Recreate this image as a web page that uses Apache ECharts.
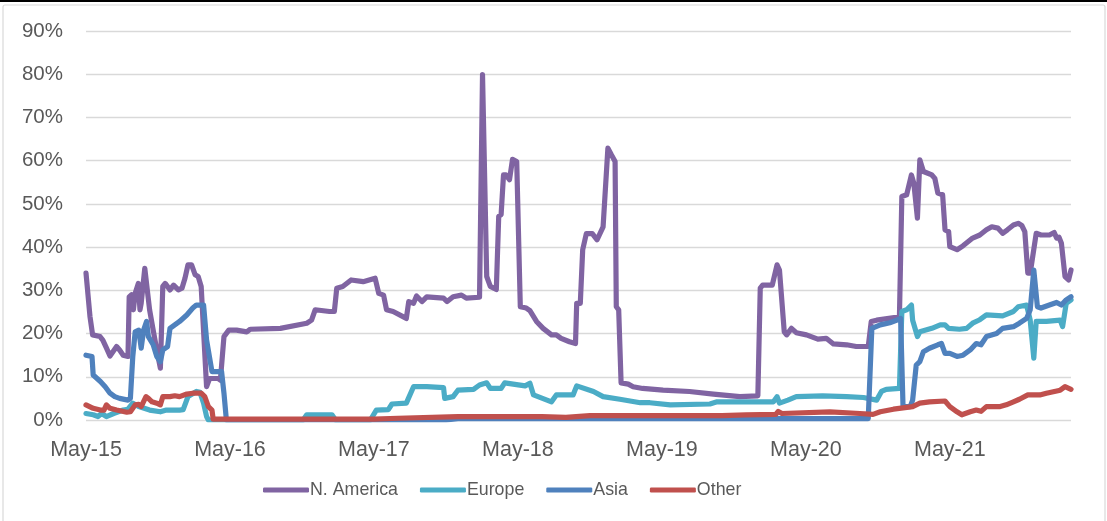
<!DOCTYPE html>
<html>
<head>
<meta charset="utf-8">
<script src="https://cdn.jsdelivr.net/npm/echarts@6/dist/echarts.min.js"></script>
<style>
html,body{margin:0;padding:0;background:#fff;}
#chart{width:1107px;height:521px;}
</style>
</head>
<body>
<div id="chart"></div>
<script>
// x = months since May 2015, y = share in %
const seriesNames = ['N. America', 'Europe', 'Asia', 'Other'];
const seriesColors = ['#8064A2', '#4BACC6', '#4F81BD', '#C0504D'];
const yTicks = [0, 10, 20, 30, 40, 50, 60, 70, 80, 90];
const xTickLabels = ['May-15', 'May-16', 'May-17', 'May-18', 'May-19', 'May-20', 'May-21'];

const nAmerica = [
[0,34],[0.33,24],[0.55,19.7],[1.17,19.3],[1.4,18.5],[1.7,16.7],[2.0,14.8],[2.55,17],[2.8,16.2],[3.1,15],[3.5,14.7],[3.6,28.5],[3.8,29],[3.95,25.5],[4.1,29.3],[4.36,31.6],[4.5,25.5],[4.6,27],[4.9,35.1],[5.05,34.7],[5.3,25.5],[5.6,20.8],[5.9,16.2],[6.2,12],[6.4,30.9],[6.6,31.6],[7,30.1],[7.3,31.2],[7.7,30.1],[8,30.5],[8.25,32.8],[8.5,35.9],[8.8,35.9],[9.1,33.6],[9.35,33.2],[9.6,30.9],[10.05,7.7],[10.3,9.6],[11.0,9.6],[11.2,9.2],[11.5,19.3],[11.9,20.8],[12.55,20.8],[13.4,20.4],[13.7,21],[16.2,21.2],[18.4,22.4],[18.8,23.1],[19.1,25.5],[20.3,25.1],[20.7,25.1],[20.9,30.5],[21.4,30.9],[22.1,32.4],[23.1,32],[24.1,32.8],[24.4,29.3],[24.8,28.9],[25.05,25.5],[25.6,25.1],[26.7,23.5],[26.9,27.4],[27.3,27],[27.55,28.7],[28,27.4],[28.4,28.5],[29.8,28.2],[30.1,27.4],[30.6,28.5],[31.3,28.9],[31.7,28.2],[32.8,28.4],[33.05,79.9],[33.4,33.2],[33.7,30.9],[34.2,30.2],[34.4,47.1],[34.6,47.5],[34.8,56.7],[35.0,56.7],[35.3,55.6],[35.55,60.3],[35.9,59.8],[36.2,26.2],[36.7,25.9],[37,25.3],[37.55,22.8],[38.1,21.2],[38.8,19.7],[39.2,19.7],[39.6,18.9],[40.3,18.1],[40.8,17.7],[40.9,27],[41.2,27],[41.4,39.4],[41.7,43.1],[42.2,43.1],[42.6,41.7],[43.1,44.7],[43.5,62.9],[43.8,61.3],[44.1,59.8],[44.2,26.2],[44.4,25.5],[44.6,8.6],[45.2,8.3],[45.6,7.7],[46.4,7.3],[48.1,6.9],[50.3,6.6],[52.3,6],[54.5,5.4],[56,5.6],[56.2,30.5],[56.4,31.2],[57.2,31.2],[57.6,35.9],[57.8,34.7],[58.2,20.4],[58.4,19.7],[58.8,21.2],[59.2,20.2],[60.05,19.7],[61,18.7],[61.7,18.9],[62.3,17.6],[63.4,17.4],[64.2,17],[65.2,17],[65.45,22.8],[65.9,23.1],[67.8,23.9],[68.0,51.7],[68.4,52.1],[68.8,56.7],[69,54.8],[69.3,46.7],[69.5,60.2],[69.8,57.5],[70.5,56.7],[70.75,55.9],[71,52.5],[71.4,52.1],[71.6,44],[71.9,43.6],[72,40.1],[72.6,39.4],[73.1,40.3],[73.9,42.1],[74.5,42.8],[75.05,44],[75.5,44.7],[76,44.4],[76.4,43.2],[76.8,44],[77.3,45.1],[77.7,45.5],[78,45],[78.25,43.6],[78.5,34],[78.7,34],[79.2,43.2],[79.6,42.8],[80.3,42.8],[80.7,43.4],[80.9,42.1],[81.1,42.3],[81.3,40.9],[81.6,33.2],[81.9,32.4],[82.1,34.7]
];
const europe = [
[0,1.5],[0.6,1.2],[1.0,0.8],[1.3,1.5],[1.7,0.8],[2.3,1.5],[3.1,2.3],[3.5,2.5],[3.9,3.9],[4.4,3.1],[5.3,2.3],[6.2,1.9],[6.7,2.3],[7.8,2.3],[8.1,2.4],[8.5,5.4],[9.2,6.6],[9.5,6.4],[9.8,3.9],[10.05,0.8],[10.2,0],[18.1,0],[18.4,1.2],[20.5,1.2],[20.8,0],[23.7,0],[24.2,2.3],[25.2,2.4],[25.5,3.7],[26.7,3.9],[27.3,7.7],[28.4,7.7],[29.8,7.5],[29.9,5],[30.6,5.4],[31,6.9],[32.3,7.1],[32.8,8.1],[33.4,8.6],[33.7,7.3],[34.6,7.3],[34.9,8.6],[36.6,7.9],[37,8.5],[37.3,5.8],[38.8,4.2],[39.2,5.8],[40.6,5.8],[40.9,7.9],[42.3,6.6],[43.1,5.4],[44.5,4.8],[46.2,4],[47,4],[48.7,3.5],[52,3.7],[52.6,4.2],[57.3,4.2],[57.6,5.4],[57.8,3.9],[58.5,4.6],[59.2,5.4],[61.4,5.6],[63.4,5.4],[64.8,5.2],[65.9,4.6],[66.3,6.6],[66.7,7.1],[67.8,7.3],[68,25.1],[68.4,25.5],[68.8,26.6],[68.9,23.1],[69.3,19.3],[69.5,20.4],[70.5,21.2],[71.2,22],[71.6,22],[71.9,21.2],[72.8,21],[73.4,21.2],[73.9,22.4],[74.5,23.2],[75.05,24.3],[76.4,24.1],[77.3,25.1],[77.7,26.2],[78.4,26.6],[78.7,23.1],[79,14.3],[79.2,22.8],[80.05,22.8],[81.2,23.1],[81.4,21.6],[81.7,27],[82.1,27.8]
];
const asia = [
[0,15],[0.5,14.7],[0.6,10.4],[1.2,8.9],[1.6,7.7],[2,6.2],[2.4,5.4],[2.8,5],[3.5,4.6],[3.7,5],[3.9,14.7],[4.1,20.4],[4.4,20.8],[4.6,16.6],[4.8,20.8],[5.05,22.8],[5.2,19.3],[5.6,17.4],[5.9,14.7],[6.2,13.5],[6.4,16.2],[6.8,17],[7,21.2],[7.4,22],[7.8,22.8],[8.4,24.3],[8.9,25.9],[9.2,26.6],[9.8,26.6],[10.05,18.5],[10.5,11.2],[11.3,11.2],[11.5,6.2],[11.7,0],[30,0],[31,0.3],[65.2,0.3],[65.5,21.2],[66.2,22],[67,22.5],[67.6,23.1],[67.9,23.5],[68.1,3.1],[68.7,3.1],[68.9,4.6],[69.2,12.7],[69.5,13.5],[69.8,15.8],[70.3,16.6],[71,17.4],[71.3,17.7],[71.6,15.4],[72,15.4],[72.6,14.7],[73.1,15],[73.7,16.2],[74.2,17.7],[74.6,17.4],[75.05,19.3],[75.9,20],[76.4,21.2],[77.3,21.6],[77.8,22.4],[78.4,23.5],[78.7,25.5],[79,34.7],[79.3,26.2],[79.6,25.9],[80.3,26.6],[80.9,27.2],[81.3,26.6],[81.7,27.8],[82.1,28.5]
];
const other = [
[0,3.5],[0.6,2.7],[1.2,2.3],[1.5,2.3],[1.7,3.5],[2,2.7],[2.55,2.3],[3.4,1.8],[3.7,1.9],[4.1,3.5],[4.4,3.6],[4.6,3.1],[5,5.4],[5.2,5],[5.5,4.2],[5.9,3.9],[6.2,3.5],[6.4,5.4],[7,5.4],[7.4,5.6],[7.8,5.4],[8.4,6],[8.9,6.2],[9.6,6.2],[9.9,5.4],[10.2,3.1],[10.5,2.3],[10.6,0.2],[24,0.2],[26,0.4],[31,0.8],[38,0.8],[40,0.6],[42,1],[53,1],[55,1.2],[57.5,1.3],[57.7,2],[58,1.5],[62,1.9],[64.5,1.5],[65.6,1.3],[66.2,1.9],[67.3,2.5],[68.9,3.1],[69.5,3.9],[70.3,4.2],[71.6,4.4],[72,3.1],[72.6,1.9],[73,1.2],[73.7,1.9],[74.2,2.3],[74.6,2.0],[75.05,3.1],[76.2,3.1],[76.7,3.5],[77.3,4.2],[77.8,4.8],[78.5,5.8],[79.5,5.8],[80.05,6.2],[81.2,6.9],[81.6,7.7],[82.1,7.1]
];
const allData = [nAmerica, europe, asia, other];
const xMax = 82.1;

const FONT = 'Liberation Sans';
const chart = echarts.init(document.getElementById('chart'), null, {renderer: 'canvas'});
chart.setOption({
  animation: false,
  backgroundColor: '#fff',
  textStyle: {fontFamily: FONT},
  graphic: [
    {type: 'rect', shape: {x: 0, y: 0, width: 1107, height: 2}, style: {fill: '#000'}, silent: true},
    {type: 'rect', shape: {x: 3, y: 5, width: 1102, height: 520, r: 2}, style: {fill: 'none', stroke: '#d9d9d9', lineWidth: 1.2}, silent: true}
  ],
  grid: {left: 86, right: 36, top: 31, bottom: 101, containLabel: false},
  legend: {
    data: seriesNames,
    left: 258, top: 476,
    icon: 'roundRect',
    itemWidth: 46, itemHeight: 5,
    itemGap: 22,
    textStyle: {fontFamily: FONT, fontSize: 17.8, color: '#595959', padding: [0, 0, 0, -4]}
  },
  xAxis: {
    type: 'value', min: 0, max: xMax, interval: 12,
    axisLine: {show: false}, axisTick: {show: false}, splitLine: {show: false},
    axisLabel: {
      margin: 19, fontFamily: FONT, fontSize: 21.5, color: '#595959',
      formatter: function (v) {
        const i = Math.round(v / 12);
        return Math.abs(v - i * 12) < 1e-6 && xTickLabels[i] ? xTickLabels[i] : '';
      }
    }
  },
  yAxis: {
    type: 'value', min: yTicks[0], max: yTicks[yTicks.length - 1], interval: 10,
    axisLine: {show: false}, axisTick: {show: false},
    splitLine: {lineStyle: {color: '#d9d9d9', width: 1.3}},
    axisLabel: {margin: 23, fontFamily: FONT, fontSize: 20.5, color: '#595959', formatter: '{value}%'}
  },
  series: seriesNames.map((n, i) => ({
    name: n, type: 'line', data: allData[i], symbol: 'none',
    lineStyle: {width: 5.2, color: seriesColors[i], join: 'round', cap: 'round'},
    itemStyle: {color: seriesColors[i]},
    z: 2 + i
  }))
});
</script>
</body>
</html>
